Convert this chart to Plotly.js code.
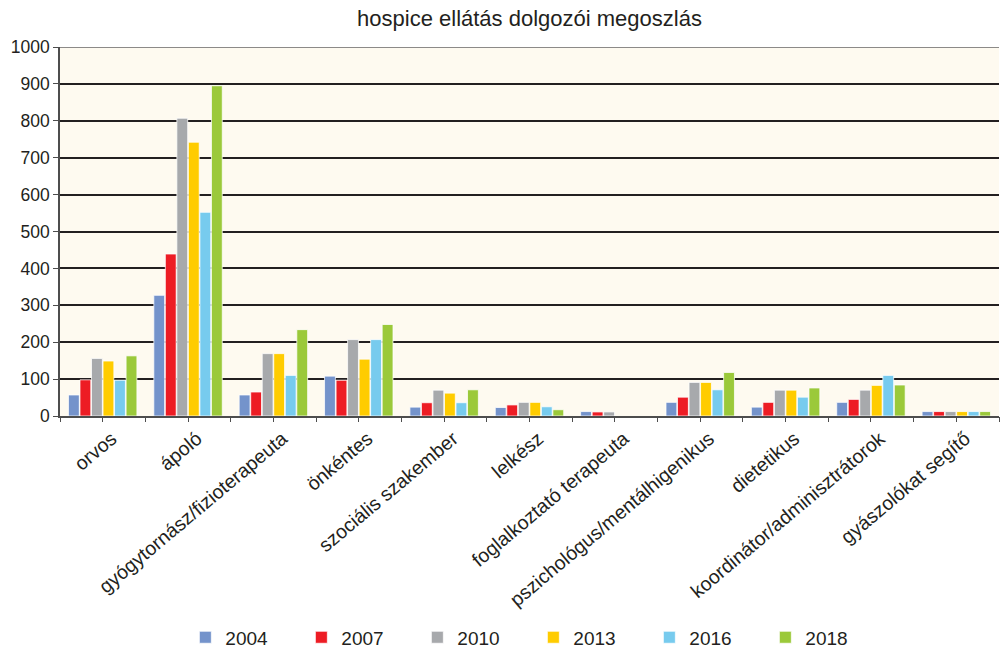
<!DOCTYPE html>
<html>
<head>
<meta charset="utf-8">
<script src="https://cdn.plot.ly/plotly-3.0.1.min.js"></script>
<style>
  html, body { margin: 0; padding: 0; background: #ffffff; }
  #chart { width: 1004px; height: 651px; }
</style>
</head>
<body>
<div id="chart"></div>
<script>
// Staff categories in hospice care
const categories = [
  "orvos", "ápoló", "gyógytornász/fizioterapeuta", "önkéntes",
  "szociális szakember", "lelkész", "foglalkoztató terapeuta",
  "pszichológus/mentálhigenikus", "dietetikus",
  "koordinátor/adminisztrátorok", "gyászolókat segítő"
];

// Headcount per category, one array per survey year
const years = ["2004", "2007", "2010", "2013", "2016", "2018"];
const v2004 = [57, 327, 57, 108, 24, 23, 12, 37, 24, 37, 12];
const v2007 = [98, 439, 65, 97, 36, 30, 11, 51, 37, 45, 12];
const v2010 = [156, 807, 169, 207, 70, 37, 11, 91, 70, 70, 12];
const v2013 = [149, 742, 169, 154, 62, 37, null, 91, 70, 83, 12];
const v2016 = [97, 552, 110, 207, 36, 25, null, 71, 51, 110, 12];
const v2018 = [163, 895, 234, 248, 71, 17, null, 118, 76, 84, 12];

const yTicks = [0, 100, 200, 300, 400, 500, 600, 700, 800, 900, 1000];

const seriesValues = [v2004, v2007, v2010, v2013, v2016, v2018];
const seriesColors = ["#7493CB", "#ED1C24", "#A7A9AC", "#FFCC00", "#77CBEE", "#9BC93A"];

const FONT = "'Liberation Sans', Arial, Helvetica, sans-serif";
const INK = "#231F20";

const traces = years.map((yr, i) => ({
  type: "bar",
  name: yr,
  x: categories,
  y: seriesValues[i],
  marker: {
    color: seriesColors[i],
    line: { color: "rgba(255,255,255,0.75)", width: 1 }
  },
  hoverinfo: "x+y+name"
}));

// Invisible helper trace so the tick-only overlay axis is drawn
traces.push({
  type: "scatter",
  x: [-0.5, 10.5],
  y: [0, 0],
  xaxis: "x2",
  mode: "none",
  showlegend: false,
  hoverinfo: "skip"
});

const layout = {
  width: 1004,
  height: 651,
  margin: { l: 60, r: 5, t: 47, b: 235, autoexpand: false },
  paper_bgcolor: "#ffffff",
  plot_bgcolor: "#FEFAF0",
  font: { family: FONT, color: INK, size: 18 },
  title: {
    text: "hospice ellátás dolgozói megoszlás",
    font: { family: FONT, size: 22, color: INK },
    x: 0.5, xref: "paper", xanchor: "center",
    y: 1 - 18 / 651, yref: "container", yanchor: "middle"
  },
  barmode: "group",
  bargap: 0.19,
  bargroupgap: 0.06,
  showlegend: true,
  legend: {
    orientation: "h",
    x: 0.1335, xanchor: "left",
    y: -0.60, yanchor: "middle",
    entrywidth: 71, entrywidthmode: "pixels",
    font: { family: FONT, size: 19, color: INK },
    bgcolor: "rgba(0,0,0,0)"
  },
  xaxis: {
    type: "category",
    range: [-0.5, 10.5],
    tickangle: -40,
    ticks: "",
    ticklabelshift: 9,
    ticklabelstandoff: 2,
    showline: true,
    linecolor: "#4d4d4d",
    linewidth: 1.5,
    showgrid: false,
    automargin: false,
    tickfont: { family: FONT, size: 19.5, color: INK },
    fixedrange: true
  },
  xaxis2: {
    overlaying: "x",
    anchor: "y",
    type: "linear",
    range: [-0.5, 10.5],
    tick0: -0.5,
    dtick: 0.5,
    ticks: "outside",
    ticklen: 5,
    tickwidth: 1.2,
    tickcolor: "#4d4d4d",
    showticklabels: false,
    showgrid: false,
    zeroline: false,
    showline: false,
    automargin: false
  },
  yaxis: {
    range: [0, 1000],
    tickvals: yTicks,
    ticktext: yTicks.map(String),
    ticks: "outside",
    ticklen: 5,
    tickwidth: 1.2,
    tickcolor: "#4d4d4d",
    showline: true,
    linecolor: "#4d4d4d",
    linewidth: 1.5,
    showgrid: true,
    gridcolor: "#231F20",
    gridwidth: 1.5,
    zeroline: false,
    automargin: false,
    tickfont: { family: FONT, size: 17.5, color: INK },
    fixedrange: true
  },
  shapes: [
    {
      type: "line", xref: "paper", yref: "y",
      x0: 0, x1: 1, y0: 1000, y1: 1000,
      line: { color: "#8c8a88", width: 2.2 },
      layer: "above"
    }
  ]
};

Plotly.newPlot("chart", traces, layout, { displayModeBar: false, responsive: false });
</script>
</body>
</html>
